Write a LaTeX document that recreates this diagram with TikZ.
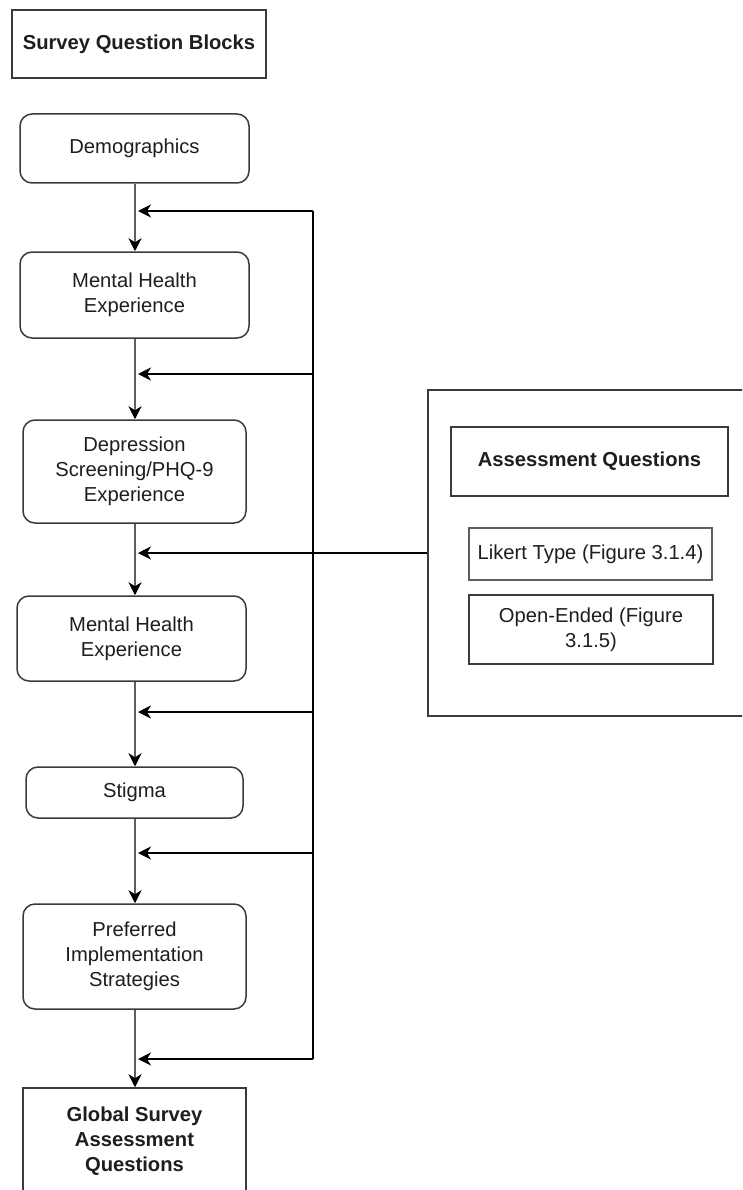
\documentclass[tikz,border=0pt]{standalone}
\usepackage{fontspec}
\setmainfont{Liberation Sans}
\usetikzlibrary{arrows.meta}
\definecolor{ink}{HTML}{1E1E1E}
\definecolor{edge}{HTML}{3A3A3A}
\definecolor{flow}{HTML}{5E5E5E}
\begin{document}
\begin{tikzpicture}[x=1pt,y=-1pt,
  every node/.style={inner sep=0pt,text=ink,align=center,
    font=\fontsize{20.2}{25}\selectfont},
  blockbox/.style={draw=edge,line width=1.5pt,rounded corners=12pt},
  plainbox/.style={draw=edge,line width=1.5pt},
  boldtext/.style={font=\fontsize{20.2}{25}\selectfont\bfseries},
  tip/.style={-{Stealth[length=13pt,width=13pt,inset=4pt,color=black]}},
  flowline/.style={tip,draw=flow,line width=2.2pt},
  feedline/.style={tip,draw=black,line width=1.3pt,shorten >=3pt},
  railline/.style={draw=black,line width=1.3pt}]
\useasboundingbox (0,0) rectangle (742,1190);
\clip (0,0) rectangle (742,1190);
\fill[white] (0,0) rectangle (742,1190);

% heading
\node[plainbox,boldtext,minimum width=254pt,minimum height=68pt] (title) at (139,44) {Survey Question Blocks};

% question blocks down the left column
\node[blockbox,minimum width=229pt,minimum height=69pt] (demo) at (134.5,148.5) {Demographics};
\node[blockbox,minimum width=229pt,minimum height=86pt] (mhe1) at (134.5,295) {Mental Health\\Experience};
\node[blockbox,minimum width=223pt,minimum height=103pt] (dep) at (134.5,471.5) {Depression\\Screening/PHQ-9\\Experience};
\node[blockbox,minimum width=229pt,minimum height=85pt] (mhe2) at (131.5,638.5) {Mental Health\\Experience};
\node[blockbox,minimum width=217pt,minimum height=51pt] (stigma) at (134.5,792.5) {Stigma};
\node[blockbox,minimum width=223pt,minimum height=105pt] (pref) at (134.5,956.5) {Preferred\\Implementation\\Strategies};
\node[plainbox,boldtext,minimum width=223pt,minimum height=106pt] (global) at (134.5,1141) {Global Survey\\Assessment\\Questions};

% assessment panel on the right
\node[plainbox,minimum width=332pt,minimum height=326pt] (panel) at (594,553) {};
\node[plainbox,boldtext,minimum width=277pt,minimum height=69pt] (aq) at (589.5,461.5) {Assessment Questions};
\node[plainbox,draw=flow,line width=2pt,minimum width=243pt,minimum height=52pt] (likert) at (590.5,554) {Likert Type (Figure 3.1.4)};
\node[plainbox,minimum width=244pt,minimum height=69pt] (open) at (591,629.5) {Open-Ended (Figure\\3.1.5)};

% spine and return rail
\coordinate (spine) at (135,0);
\coordinate (j1) at (135,211);
\coordinate (j2) at (135,374);
\coordinate (j4) at (135,712);
\coordinate (j5) at (135,853);
\coordinate (j6) at (135,1059);
\coordinate (r1) at (313,211);
\coordinate (r2) at (313,374);
\coordinate (r4) at (313,712);
\coordinate (r5) at (313,853);
\coordinate (r6) at (313,1059);

% main flow
\draw[flowline] (demo.south -| spine) -- (mhe1.north -| spine);
\draw[flowline] (mhe1.south -| spine) -- (dep.north -| spine);
\draw[flowline] (dep.south -| spine) -- (mhe2.north -| spine);
\draw[flowline] (mhe2.south -| spine) -- (stigma.north -| spine);
\draw[flowline] (stigma.south -| spine) -- (pref.north -| spine);
\draw[flowline] (pref.south -| spine) -- (global.north -| spine);

% return rail and feedback arrows
\draw[railline] (r1) -- (r6);
\draw[feedline] (r1) -- (j1);
\draw[feedline] (r2) -- (j2);
\draw[feedline] (panel.west) -- (panel.west -| spine);
\draw[feedline] (r4) -- (j4);
\draw[feedline] (r5) -- (j5);
\draw[feedline] (r6) -- (j6);
\end{tikzpicture}
\end{document}
